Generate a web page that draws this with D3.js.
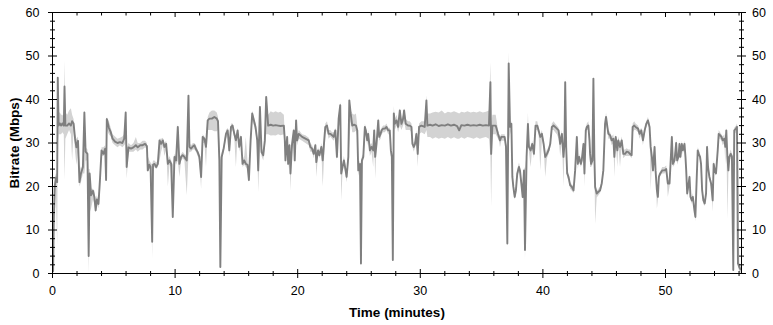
<!DOCTYPE html>
<html>
<head>
<meta charset="utf-8">
<script src="https://cdn.jsdelivr.net/npm/d3@7"></script>
<style>
    body { margin: 0; background: #fff; }
    svg { display: block; font-family: "Liberation Sans", Arial, sans-serif; }
</style>
</head>
<body>
<div id="chart"></div>
<script>
// sample times (minutes) and bitrate readings (Mbps)
const timeMinutes = [
    0.00,0.05,0.10,0.18,0.28,0.38,0.43,0.50,0.60,0.70,
    0.80,0.92,0.98,1.05,1.20,1.35,1.50,1.60,1.72,1.84,
    1.95,2.08,2.20,2.32,2.48,2.60,2.70,2.85,2.95,3.03,
    3.15,3.30,3.42,3.52,3.62,3.75,3.88,4.00,4.15,4.30,
    4.37,4.43,4.60,4.75,4.90,5.10,5.30,5.50,5.70,5.85,
    5.97,6.05,6.20,6.40,6.60,6.80,6.95,7.15,7.35,7.55,
    7.70,7.77,7.90,8.00,8.13,8.20,8.32,8.46,8.59,8.73,
    8.86,9.00,9.13,9.27,9.41,9.54,9.68,9.81,9.95,10.08,
    10.22,10.35,10.49,10.62,10.76,10.95,11.09,11.17,11.30,11.45,
    11.57,11.70,11.84,11.98,12.12,12.25,12.39,12.52,12.66,12.80,
    13.00,13.20,13.40,13.50,13.61,13.69,13.80,13.96,14.15,14.29,
    14.42,14.56,14.69,14.83,14.96,15.10,15.23,15.37,15.50,15.64,
    15.77,15.90,16.02,16.16,16.29,16.43,16.56,16.70,16.78,16.92,
    17.05,17.19,17.32,17.43,17.59,17.80,18.00,18.20,18.40,18.60,
    18.87,18.95,19.00,19.14,19.22,19.33,19.41,19.54,19.68,19.76,
    19.87,19.95,20.09,20.36,20.63,20.90,21.03,21.17,21.31,21.44,
    21.52,21.66,21.77,21.93,22.04,22.25,22.39,22.52,22.66,22.80,
    22.93,23.07,23.20,23.34,23.47,23.55,23.66,23.77,23.86,23.99,
    24.13,24.21,24.32,24.45,24.60,24.75,24.86,24.94,25.08,25.16,
    25.24,25.35,25.48,25.56,25.67,25.75,25.89,26.02,26.16,26.24,
    26.32,26.43,26.57,26.65,26.76,26.84,26.97,27.11,27.24,27.38,
    27.51,27.60,27.68,27.76,27.84,27.92,28.06,28.19,28.33,28.46,
    28.60,28.68,28.81,29.00,29.14,29.28,29.36,29.47,29.57,29.68,
    29.79,29.90,30.09,30.36,30.50,30.58,30.80,31.00,31.25,31.50,
    31.75,32.00,32.25,32.50,32.75,33.00,33.17,33.35,33.60,33.85,
    34.10,34.35,34.60,34.85,35.10,35.35,35.60,35.72,35.78,35.88,
    36.15,36.34,36.42,36.50,36.61,36.77,36.88,36.99,37.10,37.21,
    37.32,37.43,37.51,37.59,37.70,37.80,37.91,38.05,38.13,38.24,
    38.35,38.46,38.54,38.67,38.78,38.86,39.00,39.13,39.27,39.40,
    39.54,39.65,39.79,39.92,40.06,40.19,40.33,40.46,40.60,40.73,
    40.87,41.00,41.14,41.28,41.41,41.55,41.68,41.76,41.82,41.90,
    41.98,42.09,42.22,42.36,42.50,42.63,42.77,42.85,42.96,43.09,
    43.17,43.31,43.39,43.50,43.58,43.71,43.80,43.85,43.93,44.04,
    44.12,44.20,44.26,44.39,44.53,44.66,44.80,44.93,45.07,45.15,
    45.26,45.34,45.48,45.61,45.75,45.83,45.94,46.07,46.15,46.29,
    46.43,46.56,46.70,46.83,46.97,47.10,47.24,47.32,47.45,47.56,
    47.76,47.89,48.03,48.16,48.30,48.43,48.57,48.70,48.79,48.89,
    48.98,49.11,49.19,49.30,49.38,49.46,49.57,49.73,49.92,50.06,
    50.19,50.33,50.41,50.52,50.60,50.74,50.87,50.95,51.06,51.14,
    51.22,51.33,51.41,51.55,51.63,51.69,51.77,51.85,51.96,52.04,
    52.15,52.23,52.36,52.44,52.55,52.63,52.71,52.82,52.90,52.99,
    53.09,53.20,53.31,53.39,53.47,53.58,53.72,53.85,53.93,54.02,
    54.12,54.26,54.34,54.45,54.56,54.67,54.80,54.88,54.96,55.05,
    55.13,55.21,55.32,55.42,55.53,55.61,55.75,55.83,55.91,56.02,56.15
];

const bitrateMbps = [
    2,0.5,12,20,22,21,45,34,34.5,34,
    34.5,34,43,34,34,34.5,34,35,34.5,31,
    29,30.5,21,23,24.5,37,28,27.5,4,23,
    18,19,17.5,14.5,17,16,22,28.3,27.5,28.7,
    21.5,35.5,33.5,32.5,31,30.3,30,30.2,30,31,
    37,24.5,29,28.7,29,29.5,29,29.5,29.5,29.8,
    29.3,23.7,25,24.5,7.3,25,25.2,24.5,25.2,30.6,
    29.8,30.6,29.1,29.8,25.2,26,25.2,13,26.8,26,
    33.7,25.2,26.8,27.2,26.8,26,40.9,29.1,28.7,29.2,
    29.5,28.6,27.9,26.8,22.2,31.4,31,29.1,35.2,35.6,
    35.6,36,35.6,35,26,1.5,26.8,28.7,32.1,32.9,
    28.3,33.7,34,32.1,30.6,32.9,29.1,31.4,25.2,26,
    25.2,25,21.5,30.6,36.8,35.2,33.7,30.6,23.7,38.3,
    27.9,27.2,30.6,40.6,34,34.2,34,34.1,34,33.9,
    34,30.6,26,31.4,25.2,29.5,23,29.8,32.9,26,
    35.2,30.6,32.1,31.4,31,30.6,29.1,28.7,27.5,29.5,
    25.6,28.3,27.2,29.1,26,33.7,34,32.1,32.1,31.8,
    31.4,32.9,26.8,35.6,38.7,23,24.5,26,24.5,22.2,
    26.8,39.8,36.8,34,34.2,34,32.9,23.7,25.2,2.3,
    26,26.8,33.7,32.9,30.6,32.1,28.3,29.1,28.3,32.9,
    26.8,29.8,35.2,31.4,32.1,32.9,33.3,33.3,33.7,32.9,
    32.9,28.3,26.8,3.1,36.8,34.4,35.2,33.7,37.5,34.4,
    35.6,37.5,34.4,34,34,33.7,29.8,29.1,29.8,32.1,
    27.5,33.7,34,33.7,39.8,34,34.2,34,34.3,33.9,
    34.1,34,34.3,34,34.2,33.9,32.9,34.1,34,34.2,
    34,34.1,34,34.2,34,34.1,34,44,27.5,34,
    34,32.1,31.4,30.6,31.4,31.4,31.4,29.1,6.9,48.3,
    33.7,34.4,22.2,19.9,17.6,19.1,23,24.5,23.7,20.7,
    17.6,23.7,5.4,26.8,34.4,29.1,28.3,29.8,27.5,34,
    34,32.9,31.4,32.1,29.8,26.8,27.5,28.3,29.8,33.7,
    34,33.7,33.3,32.9,29.8,32.1,26.8,29.8,44,29.1,
    23,22.2,20.3,19.9,19.1,23.7,31.4,25.2,26.8,25.2,
    26,29.8,23,32.9,33.7,34,30.6,27.5,25.2,26,
    44.8,26.8,19.9,18.4,18.8,19.1,20.7,23.7,34.4,36,
    33.7,32.1,31.8,30.6,31,26.8,31.4,28.3,30.6,29.1,
    30.6,27.5,27.5,28,27.9,27.5,27.2,33.7,34,33.7,
    33.3,32.1,32.9,30.6,32.9,34.4,35.2,33.7,29.1,26.8,
    23.7,29.1,23.7,19.1,17.6,22.2,23,23.7,23.7,24,
    20.7,20.7,25.2,31.4,25.2,26,30,26,26.8,29.8,
    26.8,29.8,28.3,29.8,26.8,23.7,18.4,19.9,22.2,17.6,
    16.8,17.6,14.5,13,22.2,28.3,27.5,26.8,25.2,19.1,
    16.8,16.1,18.4,29.1,24.5,22.2,20.7,16.8,25.2,23.7,
    23,28.3,32.1,31.8,31.4,30.6,31,29.1,32.9,26.8,
    23.7,26.8,27.5,26.8,0.8,32.9,33.3,33.7,2.3,1.5,0.8
];

// lowest and highest reading around each sample (the light band)
const bitrateLow = [
    0.5,0,6,12,19,6.5,30,32,32,32,
    32.5,32,21.5,31,32,33,32,26,33,28,
    25,28,20,21,23,23,26,26,0,14,
    15,17,16,14,16,15,19,27,27,27.5,
    21,33,32,31.5,30,29.5,29,29.5,29,29.5,
    30,21.8,28,28,28,28.5,28,28.5,28.5,29,
    28.5,23.5,24,24,3.4,24,24.5,24,24.5,26,
    28,29.5,27,28.5,20,25,24.5,12.5,26,25,
    26,22.2,26,26.5,26,18,27,28,28,28.5,
    28.5,28,27,26,19.5,30,30,24.5,33,33,
    33,32.7,32.7,33,24,0.8,26,28,31,32,
    27,32.5,33,31,24.5,32,28,30.5,24.5,25,
    24.5,24,21,29,35,34,32.5,29,18.7,30,
    27,26,29,32,32,31.7,31.8,31.7,32,31.8,
    32,29,25,30,24,28,19,28.5,32,25,
    33,29.5,31,30.5,30,29.5,28,28,26.5,28.5,
    22.2,27.5,26.5,28,20,32,33,31,31.5,31,
    30.5,31.5,26,34,34,16.8,23.5,25,23.5,21,
    25.5,30,35,32.5,32.5,32.8,31.5,22.5,24,1,
    25,26,32,31.5,29.5,31,27,28,24.5,31.5,
    21.8,29,33,30.5,31,32,32.5,32.5,33,32,
    32,27,26,2.5,34,33,34,32.5,34,33,
    34,35,33,33,33,32.5,29,28,29,31,
    24.5,32,32.5,32,33,31.4,31.4,31,31.3,31,
    31.2,31,31.4,31,31.3,31,31,31.3,31,31.4,
    31.2,31,31.3,31,31.2,31.4,31,27,15.3,32,
    32,31,30.5,29,30.5,30.5,30.5,28,5.8,30,
    32,33,21,19,17,18,22,23.5,23,20,
    17,23,3.1,26,33,28,24.5,29,26.5,33,
    33,32,23.7,31,29,22.2,26.5,27.5,29,33,
    33,32.5,32,31,27,31,20,29,30,28,
    22,21.5,19.5,19,18.5,23,30,24,26,24.5,
    25,29,20,32,33,33,29.5,24.5,24.5,25,
    30,25,11.4,17.5,18,18.5,20,23,33,34,
    33,31,31,29.5,30,22.2,30.5,24.5,29.5,24.5,
    29.5,26.5,27,27,27,27,26.5,32.5,33,33,
    32.5,31,32,29.5,32,33.5,34.5,33,19.1,26,
    23,28,23,14.9,17,21.5,22.5,23,23,23.5,
    17.6,20,24.5,30.5,24.5,25,29,25,26,29,
    26,29,27.5,29,26,23,17.5,19,21.5,17,
    16,17,14,12,21.5,27.5,27,26,24.5,18.5,
    16,15.5,17.5,28,23.5,21.5,20,14.2,24.5,23,
    22.5,27.5,31,31,30.5,29.5,30,25.2,32,12.6,
    23,26,26.5,26,0,32,32.5,33,1.5,0.5,0
];

const bitrateHigh = [
    3,2,14,22,23,23,45.5,37,37,36.5,
    36.5,36,49,37,36.5,37.5,38,36.5,35.5,32,
    31,31.5,25,24,25.5,37.5,29,28.5,24,24,
    19.5,19.5,19,17,18,17,23,29,29,29.5,
    24,36,35,33.5,32,31.5,31,31.2,31.5,32,
    37.5,29,30,29.5,30,31.4,30,30,30.5,30.5,
    30,27,26,25.5,25,26,26,25.5,26,31,
    31,31.2,30,30.5,26,27,26,25,27.5,27,
    34.5,26.5,27.5,28,27.5,27,41.5,30,29.5,30,
    30,29.5,28.5,27.5,24,32,31.5,30,36,37,
    37.5,37.5,37,36,30,26,28,29.5,33,33.5,
    29,34.5,34.5,33,31.5,33.5,30,32,26,27,
    31.4,26,23,31.5,37.5,36,34.5,31.5,25,38.8,
    29,28,31.5,41,36.5,37.3,37,37.3,37,37.2,
    36.5,31.5,27,32,26,30.5,24,30.5,33.5,27,
    35.5,31.5,33,32,31.8,31.2,30,29.5,28.5,30,
    26.5,29,28,30,27,34.5,35,33,33,32.5,
    32.5,33.5,28,36.5,39.5,24,25.5,27,25.5,23,
    27.5,40.3,37.5,36.8,36.5,36.8,34,25,26,25,
    27,27.5,34.5,33.5,31.5,33,29.5,30,29,33.5,
    27.5,30.5,35.8,32,33,33.5,34,34,34.5,33.5,
    33.5,29,27.5,27,38.5,35.5,36.5,35,38,35.5,
    36.5,38,35.5,35,35,34.5,30.5,30,30.5,33,
    28.5,34.5,35,35,41,36.8,36.8,37,37.2,37,
    37.5,36.8,37.2,37,37.3,37,36.8,37.2,37,37.3,
    37,37.2,37,37.3,37,37.2,37.5,48.6,34,36.5,
    36.5,33,32,31.5,32,32,32,30,29,51,
    34.5,35,23,21,18.5,20,24,25.5,24.5,21.5,
    18.5,24.5,24,27.5,37,30,29,30.5,28.5,35,
    35,33.5,32,33,30.5,27.5,28.5,29,30.5,34.5,
    35,34.5,34,33.5,31,33,27.5,30.5,45,30,
    24,23,21,20.5,20,24.5,32,26,27.5,26,
    27,30.5,24,33.5,34.5,35,31.5,28.5,26,27,
    45.5,27.5,21,19,19.5,20,21.5,24.5,35,37,
    34.5,33,32.5,31.5,32,27.5,32,29,31.5,30,
    31.5,28.5,28.5,28.8,28.5,28.5,28,34.5,35,34.5,
    34,33,33.5,31.5,33.5,35,36,34.5,30,27.5,
    24.5,30,24.5,20,18.5,23,23.5,24.5,24.5,24.8,
    21.5,21.5,26,32,26,27,31,27,27.5,30.5,
    27.5,30.5,29,30.5,27.5,24.5,19,20.5,23,18.5,
    17.5,18.5,15.5,14,23,29,28.5,27.5,26,20,
    17.5,17,19,30,25.5,23,21.5,17.5,26,24.5,
    24,29,33,32.5,32,31.5,32,30,33.5,27.5,
    24.5,27.5,28.5,27.5,27,33.5,34,34.5,33,2.5,2
];

const xTicks = [0, 10, 20, 30, 40, 50];
const yTicks = [0, 10, 20, 30, 40, 50, 60];

const data = timeMinutes.map((t, i) => ({
    t: t, v: bitrateMbps[i], lo: bitrateLow[i], hi: bitrateHigh[i]
}));

const width = 773, height = 325;
const plotLeft = 52.5, plotRight = 741.5, plotTop = 12.5, plotBottom = 273.5;

const svg = d3.select("#chart").append("svg")
    .attr("width", width)
    .attr("height", height);

const x = d3.scaleLinear().domain([0, 56.2]).range([plotLeft, plotRight]);
const y = d3.scaleLinear().domain([0, 60]).range([plotBottom, plotTop]);

svg.append("clipPath")
    .attr("id", "plot-clip")
    .append("rect")
    .attr("x", plotLeft)
    .attr("y", plotTop)
    .attr("width", plotRight - plotLeft)
    .attr("height", plotBottom - plotTop);

const plot = svg.append("g").attr("clip-path", "url(#plot-clip)");

plot.append("path")
    .datum(data)
    .attr("fill", "#d3d3d3")
    .attr("d", d3.area().x(d => x(d.t)).y0(d => y(d.lo)).y1(d => y(d.hi)));

plot.append("path")
    .datum(data)
    .attr("fill", "none")
    .attr("stroke", "#7f7f7f")
    .attr("stroke-width", 1.9)
    .attr("stroke-linejoin", "round")
    .attr("d", d3.line().x(d => x(d.t)).y(d => y(d.v)));

// frame
svg.append("rect")
    .attr("x", plotLeft)
    .attr("y", plotTop)
    .attr("width", plotRight - plotLeft)
    .attr("height", plotBottom - plotTop)
    .attr("fill", "none")
    .attr("stroke", "#000");

const xMinor = d3.range(0, 57, 2).filter(d => d % 10 !== 0);
const yMinor = d3.range(0, 61, 2).filter(d => d % 10 !== 0);

const addAxis = (axis, tx, ty) => {
    const g = svg.append("g")
        .attr("transform", `translate(${tx},${ty})`)
        .call(axis.offset(0).tickSizeOuter(0));
    g.select(".domain").remove();
    g.selectAll("line").attr("stroke", "#000");
    g.selectAll("text")
        .attr("fill", "#000")
        .style("font-size", "12.5px")
        .style("font-family", '"Liberation Sans", Arial, sans-serif');
    return g;
};

// y axes: ticks cross the axis line on both sides
addAxis(d3.axisLeft(y).tickValues(yTicks).tickSize(4.5).tickPadding(8.5), plotLeft, 0);
addAxis(d3.axisRight(y).tickValues(yTicks).tickSize(4.5).tickFormat(""), plotLeft, 0);
addAxis(d3.axisLeft(y).tickValues(yMinor).tickSize(2.5).tickFormat(""), plotLeft, 0);
addAxis(d3.axisRight(y).tickValues(yMinor).tickSize(2.5).tickFormat(""), plotLeft, 0);

addAxis(d3.axisRight(y).tickValues(yTicks).tickSize(4.5).tickPadding(6), plotRight, 0);
addAxis(d3.axisLeft(y).tickValues(yTicks).tickSize(4.5).tickFormat(""), plotRight, 0);
addAxis(d3.axisRight(y).tickValues(yMinor).tickSize(2.5).tickFormat(""), plotRight, 0);
addAxis(d3.axisLeft(y).tickValues(yMinor).tickSize(2.5).tickFormat(""), plotRight, 0);

// x axis at the bottom, plus inward ticks along the top
addAxis(d3.axisBottom(x).tickValues(xTicks).tickSize(4.5).tickPadding(8), 0, plotBottom);
addAxis(d3.axisTop(x).tickValues(xTicks).tickSize(4.5).tickFormat(""), 0, plotBottom);
addAxis(d3.axisBottom(x).tickValues(xMinor).tickSize(2.5).tickFormat(""), 0, plotBottom);
addAxis(d3.axisTop(x).tickValues(xMinor).tickSize(2.5).tickFormat(""), 0, plotBottom);

addAxis(d3.axisBottom(x).tickValues(xTicks).tickSize(4.5).tickFormat(""), 0, plotTop);
addAxis(d3.axisBottom(x).tickValues(xMinor).tickSize(3).tickFormat(""), 0, plotTop);

svg.append("text")
    .attr("x", (plotLeft + plotRight) / 2)
    .attr("y", 317)
    .attr("text-anchor", "middle")
    .style("font-size", "13.5px")
    .style("font-weight", "bold")
    .text("Time (minutes)");

svg.append("text")
    .attr("transform", `translate(18.5,${(plotTop + plotBottom) / 2}) rotate(-90)`)
    .attr("text-anchor", "middle")
    .style("font-size", "13.5px")
    .style("font-weight", "bold")
    .text("Bitrate (Mbps)");
</script>
</body>
</html>
